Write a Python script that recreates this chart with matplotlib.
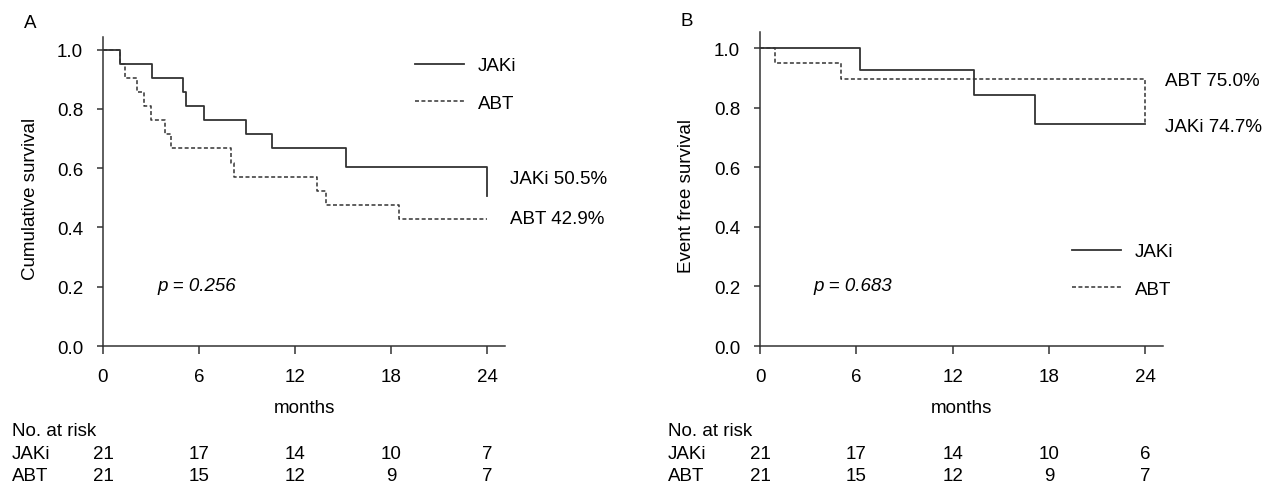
import matplotlib
matplotlib.use("Agg")
import matplotlib.pyplot as plt
import matplotlib.transforms as mtransforms

plt.rcParams['font.family'] = ['Liberation Sans', 'DejaVu Sans']

# --- data ---
months_ticks = [0, 6, 12, 18, 24]

a_jaki_t = [0, 1.04, 3.05, 5.0, 5.17, 6.3, 8.94, 10.56, 15.17, 24]
a_jaki_s = [1.0, 0.952, 0.905, 0.857, 0.810, 0.762, 0.714, 0.667, 0.605, 0.505]
a_abt_t = [0, 1.04, 1.39, 2.12, 2.58, 2.97, 3.89, 4.26, 8.0, 8.2, 13.38, 13.9, 18.5, 24]
a_abt_s = [1.0, 0.952, 0.905, 0.857, 0.810, 0.762, 0.714, 0.667, 0.619, 0.571, 0.524, 0.476, 0.429, 0.429]

b_jaki_t = [0, 6.23, 13.3, 17.14, 24]
b_jaki_s = [1.0, 0.927, 0.844, 0.747, 0.747]
b_abt_t = [0, 0.96, 5.03, 24]
b_abt_s = [1.0, 0.952, 0.897, 0.750]

a_risk_jaki = [21, 17, 14, 10, 7]
a_risk_abt = [21, 15, 12, 9, 7]
b_risk_jaki = [21, 17, 14, 10, 6]
b_risk_abt = [21, 15, 12, 9, 7]

LINE = '#333333'
FS = 13.5
W, H = 1275, 489


def rect(left, top, right, bottom):
    return [left / W, 1 - bottom / H, (right - left) / W, (bottom - top) / H]


fig = plt.figure(figsize=(12.75, 4.89), dpi=100)


def km_panel(ax_rect, ymax, t1, s1, t2, s2, ylabel, label_x, letter, letter_xy,
             pval, pval_xy, end_labels, leg_anchor, risk1, risk2, risk_x):
    ax = fig.add_axes(ax_rect)
    ax.step(t1, s1, where='post', color=LINE, lw=1.3, label='JAKi')
    ax.step(t2, s2, where='post', color=LINE, lw=1.1, ls=(0, (2.6, 1.6)), label='ABT')
    ax.set_xlim(0, 25.1)
    ax.set_ylim(0, ymax)
    ax.set_xticks(months_ticks)
    ax.set_yticks([0, 0.2, 0.4, 0.6, 0.8, 1.0])
    ax.set_yticklabels(['0.0', '0.2', '0.4', '0.6', '0.8', '1.0'])
    for s in ['top', 'right']:
        ax.spines[s].set_visible(False)
    for s in ['left', 'bottom']:
        ax.spines[s].set_color(LINE)
        ax.spines[s].set_linewidth(1.1)
    ax.tick_params(axis='x', direction='out', length=5.8, width=1.1, color=LINE,
                   labelsize=FS, pad=10)
    ax.tick_params(axis='y', direction='out', length=4.3, width=1.1, color=LINE,
                   labelsize=FS, pad=10)
    ax.set_xlabel('months', fontsize=FS, labelpad=10)
    ax.set_ylabel(ylabel, fontsize=FS)
    ax.yaxis.set_label_coords(label_x, 0.48)

    fig.text(letter_xy[0] / W, 1 - letter_xy[1] / H, letter, fontsize=FS,
             ha='center', va='center')
    fig.text(pval_xy[0] / W, 1 - pval_xy[1] / H, pval, fontsize=FS,
             style='italic', ha='left', va='center')
    for txt, (x, y) in end_labels:
        fig.text(x / W, 1 - y / H, txt, fontsize=FS, ha='left', va='center')

    ax.legend(loc='upper left', bbox_to_anchor=(leg_anchor[0] / W, 1 - leg_anchor[1] / H),
              bbox_transform=fig.transFigure, frameon=False, fontsize=FS,
              handlelength=2.6, handletextpad=0.75, labelspacing=1.1,
              borderpad=0, borderaxespad=0)

    # number at risk table
    trans = mtransforms.blended_transform_factory(ax.transData, fig.transFigure)
    fig.text(risk_x / W, 1 - 432 / H, 'No. at risk', fontsize=FS, ha='left', va='center')
    fig.text(risk_x / W, 1 - 455 / H, 'JAKi', fontsize=FS, ha='left', va='center')
    fig.text(risk_x / W, 1 - 477 / H, 'ABT', fontsize=FS, ha='left', va='center')
    for m, n1, n2 in zip(months_ticks, risk1, risk2):
        ax.text(m, 1 - 455 / H, str(n1), transform=trans, fontsize=FS,
                ha='center', va='center', clip_on=False)
        ax.text(m, 1 - 477 / H, str(n2), transform=trans, fontsize=FS,
                ha='center', va='center', clip_on=False)
    return ax


km_panel(rect(103, 38, 505, 347), 1.043,
         a_jaki_t, a_jaki_s, a_abt_t, a_abt_s,
         'Cumulative survival', -0.159, 'A', (30, 23),
         'p = 0.256', (157, 287),
         [('JAKi 50.5%', (510, 179)), ('ABT 42.9%', (510, 219))],
         (415, 58), a_risk_jaki, a_risk_abt, 12)

km_panel(rect(760, 33, 1163, 347), 1.055,
         b_jaki_t, b_jaki_s, b_abt_t, b_abt_s,
         'Event free survival', -0.161, 'B', (687, 21),
         'p = 0.683', (813, 287),
         [('ABT 75.0%', (1165, 82)), ('JAKi 74.7%', (1165, 127))],
         (1072, 244), b_risk_jaki, b_risk_abt, 668)

fig.savefig('out.png', dpi=100)
